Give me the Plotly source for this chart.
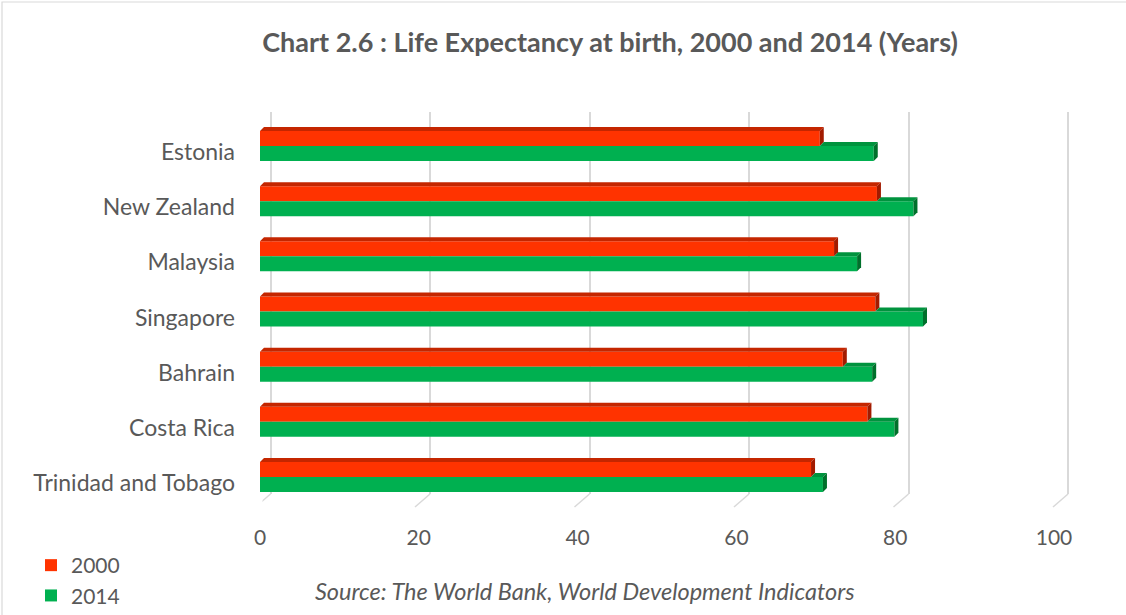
import plotly.graph_objects as go

countries = ["Estonia", "New Zealand", "Malaysia", "Singapore", "Bahrain",
             "Costa Rica", "Trinidad and Tobago"]
life_2000 = [70.5, 77.7, 72.3, 77.5, 73.4, 76.5, 69.4]
life_2014 = [77.3, 82.3, 75.2, 83.5, 77.1, 79.9, 70.9]
series_names = ["2000", "2014"]
x_ticks = [0, 20, 40, 60, 80, 100]

W, H = 1126, 615
FONT = "Lato"
GREY = "#595959"
RED, RED_TOP, RED_SIDE = "#ff3300", "#c42600", "#a21b00"
GRN, GRN_TOP, GRN_SIDE = "#00b050", "#00933e", "#00702b"
GRID = "#d9d9d9"

def px_x(p):
    return p / W

def px_y(p):
    return 1 - p / H

bar_w = 0.272          # bar thickness in category units
dx = 4 / 7.94          # depth in x units
dy = 4 / 55.2          # depth in category units

fig = go.Figure()

# back wall grid subplot (x / y)
fig.add_trace(go.Scatter(x=[], y=[], xaxis="x", yaxis="y", showlegend=False,
                         hoverinfo="skip"))

idx = list(range(len(countries)))
fig.add_trace(go.Bar(
    x=life_2000, y=idx, orientation="h", name=series_names[0],
    marker=dict(color=RED, line=dict(width=0)), width=bar_w, offset=-bar_w,
    xaxis="x2", yaxis="y2", legendgroup="a", hoverinfo="x+name"))
fig.add_trace(go.Bar(
    x=life_2014, y=idx, orientation="h", name=series_names[1],
    marker=dict(color=GRN, line=dict(width=0)), width=bar_w, offset=0,
    xaxis="x2", yaxis="y2", legendgroup="b", hoverinfo="x+name"))

shapes = []

def poly(pts, color):
    d = "M " + " L ".join(f"{x},{y}" for x, y in pts) + " Z"
    return dict(type="path", path=d, xref="x2", yref="y2", fillcolor=color,
                line=dict(width=0), layer="above")

for i, (a, b) in zip(idx, zip(life_2000, life_2014)):
    t = i - bar_w
    shapes.append(poly([(0, t), (a, t), (a + dx, t - dy), (dx, t - dy)], RED_TOP))
    shapes.append(poly([(a, t), (a + dx, t - dy), (a + dx, i - dy), (a, i)], RED_SIDE))
    if b > a:
        shapes.append(poly([(a, i), (b, i), (b + dx, i - dy), (a + dx, i - dy)], GRN_TOP))
    shapes.append(poly([(b, i), (b + dx, i - dy), (b + dx, i + bar_w - dy), (b, i + bar_w)], GRN_SIDE))

# floor diagonals of gridlines
grid_ppu = (1068 - 270.5) / 100
back_dx = 15 / grid_ppu
for t in x_ticks:
    shapes.append(dict(type="line", xref="x", yref="paper",
                       x0=t, y0=px_y(494), x1=t - back_dx, y1=px_y(507),
                       line=dict(color=GRID, width=1.5), layer="below"))

# chart border
shapes.append(dict(type="rect", xref="paper", yref="paper",
                   x0=px_x(2), y0=-0.2, x1=1.2, y1=px_y(2),
                   line=dict(color=GRID, width=1.2), layer="below"))

fig.update_layout(
    width=W, height=H, autosize=False,
    margin=dict(l=0, r=0, t=0, b=0, pad=0, autoexpand=False),
    paper_bgcolor="white", plot_bgcolor="rgba(0,0,0,0)",
    font=dict(family=FONT, size=22, color=GREY),
    barmode="overlay",
    showlegend=True,
    title=dict(text="<b>Chart 2.6 : Life Expectancy at birth, 2000 and 2014 (Years)</b>",
               x=610 / W, xanchor="center", y=px_y(43), yanchor="middle",
               font=dict(family=FONT, size=27, color=GREY)),
    xaxis=dict(domain=[px_x(270.5 - grid_ppu), px_x(1068 + grid_ppu)], range=[-1, 101],
               anchor="y", tickvals=x_ticks, showgrid=True, gridcolor=GRID, gridwidth=1.5,
               showticklabels=False, zeroline=False, showline=False, ticks="",
               automargin=False),
    yaxis=dict(domain=[px_y(494), px_y(112)], range=[0, 1], anchor="x",
               showgrid=False, showticklabels=False, zeroline=False, showline=False,
               automargin=False),
    xaxis2=dict(domain=[px_x(260), px_x(1054)], range=[0, 100], anchor="free",
                position=px_y(523), tickvals=x_ticks, showgrid=False, zeroline=False,
                showline=False, ticks="", tickfont=dict(size=21, color=GREY),
                automargin=False),
    yaxis2=dict(domain=[px_y(504.6), px_y(118.4)], range=[6.5, -0.5], anchor="x2",
                tickvals=idx, ticktext=countries, showgrid=False, zeroline=False,
                showline=False, ticks="", ticklabelstandoff=24, ticklabelshift=-6,
                tickfont=dict(size=23, color=GREY), automargin=False),
    legend=dict(x=px_x(31), y=px_y(545), xanchor="left", yanchor="top",
                font=dict(size=21, color=GREY), tracegroupgap=14,
                bgcolor="rgba(0,0,0,0)", itemwidth=30, traceorder="normal"),
    shapes=shapes,
    annotations=[dict(text="<i>Source: The World Bank, World Development Indicators</i>",
                      x=585 / W, y=px_y(591), xref="paper", yref="paper",
                      xanchor="center", yanchor="middle", showarrow=False,
                      font=dict(size=23.5, color=GREY))],
)

fig.write_html("out.html", config={"displayModeBar": False},
               post_script="document.body.style.margin='0';")
